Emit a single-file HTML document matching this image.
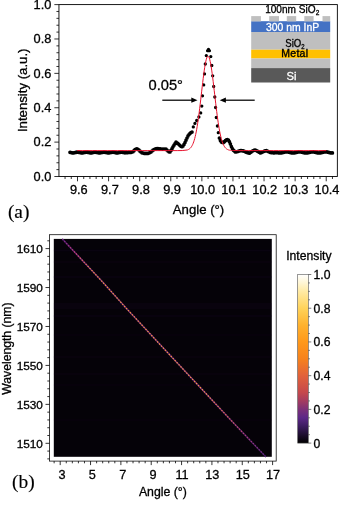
<!DOCTYPE html>
<html><head><meta charset="utf-8"><title>Figure</title>
<style>html,body{margin:0;padding:0;background:#fff;overflow:hidden}svg{display:block;will-change:transform}text{font-family:"Liberation Sans",sans-serif;fill:#000;stroke:#000;stroke-width:.3px}.w{fill:#fff;stroke:#fff}.s{font-family:"Liberation Serif",serif;stroke-width:.15px}</style>
</head><body>
<svg width="342" height="506" viewBox="0 0 342 506">
<defs>
<linearGradient id="cb" x1="0" y1="0" x2="0" y2="1"><stop offset="0" stop-color="#ffffff"/><stop offset="0.05" stop-color="#fff6d4"/><stop offset="0.1" stop-color="#ffeaa4"/><stop offset="0.2" stop-color="#ffd35a"/><stop offset="0.3" stop-color="#ffb22e"/><stop offset="0.4" stop-color="#ff981a"/><stop offset="0.5" stop-color="#f6821c"/><stop offset="0.6" stop-color="#e2623a"/><stop offset="0.7" stop-color="#c5484c"/><stop offset="0.75" stop-color="#a43c60"/><stop offset="0.8" stop-color="#7c3078"/><stop offset="0.85" stop-color="#5c2888"/><stop offset="0.9" stop-color="#3c1c60"/><stop offset="0.95" stop-color="#1e0e30"/><stop offset="1" stop-color="#000000"/></linearGradient>
<linearGradient id="lg" gradientUnits="userSpaceOnUse" x1="62.3" y1="238.9" x2="266" y2="457"><stop offset="0" stop-color="#7a2a90"/><stop offset="0.06" stop-color="#c8407a"/><stop offset="0.15" stop-color="#f5953a"/><stop offset="0.7" stop-color="#f5954a"/><stop offset="0.8" stop-color="#e07050"/><stop offset="0.9" stop-color="#b04080"/><stop offset="1" stop-color="#6a2a90"/></linearGradient>
<linearGradient id="lg2" gradientUnits="userSpaceOnUse" x1="62.3" y1="238.9" x2="266" y2="457"><stop offset="0" stop-color="#3a1050"/><stop offset="0.1" stop-color="#6a2470"/><stop offset="0.75" stop-color="#6a2470"/><stop offset="1" stop-color="#2a1040"/></linearGradient>
</defs>
<rect width="342" height="506" fill="#fff"/>
<g id="top">
<path d="M54.35 176.50H58.95M56.45 169.62H58.95M56.45 162.75H58.95M56.45 155.87H58.95M56.45 149.00H58.95M54.35 142.12H58.95M56.45 135.24H58.95M56.45 128.37H58.95M56.45 121.49H58.95M56.45 114.62H58.95M54.35 107.74H58.95M56.45 100.86H58.95M56.45 93.99H58.95M56.45 87.11H58.95M56.45 80.24H58.95M54.35 73.36H58.95M56.45 66.48H58.95M56.45 59.61H58.95M56.45 52.73H58.95M56.45 45.86H58.95M54.35 38.98H58.95M56.45 32.10H58.95M56.45 25.23H58.95M56.45 18.35H58.95M56.45 11.48H58.95M54.35 4.60H58.95M65.06 176.50V179.00M71.28 176.50V179.00M77.50 176.50V181.30M83.72 176.50V179.00M89.94 176.50V179.00M96.15 176.50V179.00M102.37 176.50V179.00M108.59 176.50V181.30M114.81 176.50V179.00M121.03 176.50V179.00M127.24 176.50V179.00M133.46 176.50V179.00M139.68 176.50V181.30M145.90 176.50V179.00M152.12 176.50V179.00M158.33 176.50V179.00M164.55 176.50V179.00M170.77 176.50V181.30M176.99 176.50V179.00M183.21 176.50V179.00M189.42 176.50V179.00M195.64 176.50V179.00M201.86 176.50V181.30M208.08 176.50V179.00M214.30 176.50V179.00M220.51 176.50V179.00M226.73 176.50V179.00M232.95 176.50V181.30M239.17 176.50V179.00M245.39 176.50V179.00M251.60 176.50V179.00M257.82 176.50V179.00M264.04 176.50V181.30M270.26 176.50V179.00M276.48 176.50V179.00M282.69 176.50V179.00M288.91 176.50V179.00M295.13 176.50V181.30M301.35 176.50V179.00M307.57 176.50V179.00M313.78 176.50V179.00M320.00 176.50V179.00M326.22 176.50V181.30M332.44 176.50V179.00" stroke="#000" stroke-width="0.8" fill="none"/>
<rect x="58.95" y="4.6" width="278.4" height="171.9" fill="none" stroke="#000" stroke-width="0.9"/>
<text x="51.4" y="180.8" font-size="12.8" text-anchor="end">0.0</text>
<text x="51.4" y="146.4" font-size="12.8" text-anchor="end">0.2</text>
<text x="51.4" y="112.0" font-size="12.8" text-anchor="end">0.4</text>
<text x="51.4" y="77.7" font-size="12.8" text-anchor="end">0.6</text>
<text x="51.4" y="43.3" font-size="12.8" text-anchor="end">0.8</text>
<text x="51.4" y="8.9" font-size="12.8" text-anchor="end">1.0</text>
<text x="78.8" y="193.6" font-size="12.8" text-anchor="middle">9.6</text>
<text x="109.9" y="193.6" font-size="12.8" text-anchor="middle">9.7</text>
<text x="141.0" y="193.6" font-size="12.8" text-anchor="middle">9.8</text>
<text x="172.1" y="193.6" font-size="12.8" text-anchor="middle">9.9</text>
<text x="202.7" y="193.6" font-size="12.8" text-anchor="middle">10.0</text>
<text x="233.8" y="193.6" font-size="12.8" text-anchor="middle">10.1</text>
<text x="264.8" y="193.6" font-size="12.8" text-anchor="middle">10.2</text>
<text x="295.9" y="193.6" font-size="12.8" text-anchor="middle">10.3</text>
<text x="327.0" y="193.6" font-size="12.8" text-anchor="middle">10.4</text>
<text x="198.5" y="213.6" font-size="13.2" text-anchor="middle">Angle (°)</text>
<text transform="translate(26.5,90.3) rotate(-90)" font-size="13.2" text-anchor="middle">Intensity (a.u.)</text>
<text class="s" x="7.9" y="218.1" font-size="19.4">(a)</text>
<path d="M70.0 152.3h0M71.0 152.5h0M72.0 152.8h0M73.0 152.9h0M74.0 152.8h0M75.0 152.6h0M76.0 152.4h0M77.0 152.2h0M78.0 152.2h0M79.0 152.4h0M80.0 152.6h0M81.0 152.8h0M82.0 152.9h0M83.0 152.8h0M84.0 152.6h0M85.0 152.4h0M86.0 152.2h0M87.0 152.2h0M88.0 152.4h0M89.0 152.6h0M90.0 152.8h0M91.0 152.9h0M92.0 152.8h0M93.0 152.5h0M94.0 152.3h0M95.0 152.2h0M96.0 152.3h0M97.0 152.5h0M98.0 152.7h0M99.0 152.9h0M100.0 152.9h0M101.0 152.7h0M102.0 152.5h0M103.0 152.3h0M104.0 152.2h0M105.0 152.3h0M106.0 152.5h0M107.0 152.7h0M108.0 152.9h0M109.0 152.9h0M110.0 152.7h0M111.0 152.5h0M112.0 152.3h0M113.0 152.2h0M114.0 152.3h0M115.0 152.5h0M116.0 152.8h0M117.0 152.9h0M118.0 152.8h0M119.0 152.6h0M120.0 152.4h0M121.0 152.2h0M122.0 152.2h0M123.0 152.4h0M124.0 152.6h0M125.0 152.8h0M126.0 152.6h0M127.0 152.6h0M128.0 152.6h0M129.0 152.5h0M130.0 152.5h0M131.0 152.5h0M132.0 152.1h0M133.0 151.7h0M134.0 150.7h0M135.0 149.5h0M136.0 149.0h0M137.0 148.8h0M138.0 149.3h0M139.0 150.1h0M140.0 151.2h0M141.0 152.0h0M142.0 152.8h0M143.0 153.0h0M144.0 153.3h0M145.0 153.4h0M146.0 153.4h0M147.0 153.4h0M148.0 153.4h0M149.0 153.0h0M150.0 152.6h0M151.0 152.0h0M152.0 151.0h0M153.0 150.2h0M154.0 149.5h0M155.0 149.1h0M156.0 148.9h0M157.0 148.7h0M158.0 148.7h0M159.0 148.8h0M160.0 148.8h0M161.0 149.0h0M162.0 149.2h0M163.0 149.2h0M164.0 149.0h0M165.0 149.0h0M166.0 149.2h0M167.0 150.1h0M168.0 151.0h0M169.0 151.8h0M170.0 151.9h0M171.0 150.4h0M172.0 148.7h0M173.0 146.8h0M174.0 145.2h0M175.0 143.7h0M176.0 142.2h0M177.0 142.8h0M178.0 143.6h0M179.0 144.6h0M180.0 145.6h0M181.0 146.3h0M182.0 146.7h0M183.0 146.1h0M184.0 144.4h0M185.0 142.5h0M186.0 140.2h0M187.0 138.0h0M188.0 135.9h0M189.0 134.5h0M190.0 133.4h0M191.0 132.6h0M192.0 132.1h0M219.4 138.0h0M220.4 140.6h0M221.4 141.9h0M222.4 142.4h0M223.4 142.6h0M224.4 141.7h0M225.4 140.7h0M226.4 139.8h0M227.4 139.7h0M228.4 140.1h0M229.4 141.7h0M230.4 143.9h0M231.4 146.6h0M232.4 148.5h0M233.4 150.2h0M234.4 151.1h0M235.4 152.0h0M236.4 151.8h0M237.4 151.6h0M238.4 151.3h0M239.4 150.9h0M240.4 150.5h0M241.4 150.6h0M242.4 150.8h0M243.4 150.9h0M244.4 151.3h0M245.4 151.8h0M246.4 152.3h0M247.4 152.6h0M248.4 152.9h0M249.4 153.2h0M250.4 152.5h0M251.4 151.8h0M252.4 151.1h0M253.4 150.6h0M254.4 150.1h0M255.4 150.1h0M256.4 150.6h0M257.4 151.2h0M258.4 151.7h0M259.4 152.3h0M260.4 152.9h0M261.4 152.6h0M262.4 152.1h0M263.4 151.6h0M264.4 151.2h0M265.4 150.8h0M266.4 150.7h0M267.4 151.1h0M268.4 151.6h0M269.4 152.0h0M270.4 152.4h0M271.4 152.7h0M272.4 152.7h0M273.4 152.8h0M274.4 152.8h0M275.4 152.7h0M276.4 152.6h0M277.4 152.6h0M278.4 152.8h0M279.4 152.9h0M280.4 153.0h0M281.4 152.9h0M282.4 152.7h0M283.4 152.5h0M284.4 152.2h0M285.4 152.0h0M286.4 151.9h0M287.4 151.9h0M288.4 152.1h0M289.4 152.3h0M290.4 152.6h0M291.4 152.8h0M292.4 152.9h0M293.4 153.0h0M294.4 152.9h0M295.4 152.7h0M296.4 152.5h0M297.4 152.2h0M298.4 152.0h0M299.4 151.9h0M300.4 151.9h0M301.4 152.1h0M302.4 152.3h0M303.4 152.6h0M304.4 152.8h0M305.4 152.9h0M306.4 153.0h0M307.4 152.9h0M308.4 152.7h0M309.4 152.5h0M310.4 152.2h0M311.4 152.0h0M312.4 151.9h0M313.4 151.9h0M314.4 152.1h0M315.4 152.3h0M316.4 152.6h0M317.4 152.8h0M318.4 152.9h0M319.4 153.0h0M320.4 152.9h0M321.4 152.7h0M322.4 152.5h0M323.4 152.2h0M324.4 152.0h0M325.4 151.9h0M326.4 151.9h0M327.4 152.1h0M328.4 152.3h0M329.4 152.6h0M330.4 152.8h0M331.4 152.9h0M332.4 152.9h0" fill="none" stroke="#000" stroke-width="3.7" stroke-linecap="round"/>
<path d="M193.3 126.9h0M194.9 123.4h0M196.7 120.5h0M198.9 117.0h0M200.7 112.9h0M201.8 106.1h0M202.5 95.8h0M203.7 84.9h0M204.5 73.9h0M205.3 64.0h0M206.3 55.6h0M207.6 50.7h0M208.5 49.5h0M209.4 50.7h0M210.8 56.6h0M211.8 65.5h0M212.7 75.8h0M213.7 86.5h0M214.8 97.0h0M215.6 107.5h0M216.3 117.5h0M217.4 126.0h0M218.3 132.7h0" fill="none" stroke="#000" stroke-width="3.3" stroke-linecap="round"/>
<polyline points="77.20,150.60 82.20,150.60 87.20,150.60 92.20,150.60 97.20,150.60 102.20,150.60 107.20,150.60 112.20,150.60 117.20,150.60 122.20,150.60 127.20,150.60 132.20,150.60 137.20,150.60 142.20,150.60 147.20,150.60 152.20,150.60 157.20,150.60 162.20,150.60 167.20,150.60 172.20,150.60 177.20,150.60 182.20,150.56 187.20,149.99 187.70,149.83 188.20,149.62 188.70,149.37 189.20,149.07 189.70,148.69 190.20,148.25 190.70,147.72 191.20,147.08 191.70,146.33 192.20,145.45 192.70,144.43 193.20,143.25 193.70,141.89 194.20,140.34 194.70,138.59 195.20,136.61 195.70,134.41 196.20,131.97 196.70,129.29 197.20,126.36 197.70,123.18 198.20,119.78 198.70,116.15 199.20,112.32 199.70,108.30 200.20,104.14 200.70,99.87 201.20,95.53 201.70,91.16 202.20,86.82 202.70,82.55 203.20,78.43 203.70,74.50 204.20,70.82 204.70,67.45 205.20,64.44 205.70,61.84 206.20,59.70 206.70,58.04 207.20,56.90 207.70,56.30 208.20,56.24 208.70,56.74 209.20,57.77 209.70,59.33 210.20,61.38 210.70,63.89 211.20,66.82 211.70,70.12 212.20,73.74 212.70,77.63 213.20,81.72 213.70,85.96 214.20,90.29 214.70,94.65 215.20,99.01 215.70,103.30 216.20,107.48 216.70,111.53 217.20,115.40 217.70,119.07 218.20,122.52 218.70,125.74 219.20,128.72 219.70,131.45 220.20,133.94 220.70,136.19 221.20,138.21 221.70,140.01 222.20,141.60 222.70,142.99 223.20,144.21 223.70,145.26 224.20,146.17 224.70,146.94 225.20,147.60 225.70,148.15 226.20,148.61 226.70,149.00 227.20,149.31 227.70,149.58 228.20,149.79 228.70,149.96 229.20,150.10 229.70,150.21 230.20,150.30 230.70,150.37 231.20,150.42 231.70,150.46 232.20,150.50 232.70,150.52 233.20,150.54 238.20,150.60 243.20,150.60 248.20,150.60 253.20,150.60 258.20,150.60 263.20,150.60 268.20,150.60 273.20,150.60 278.20,150.60 283.20,150.60 288.20,150.60 293.20,150.60 298.20,150.60 303.20,150.60 308.20,150.60 313.20,150.60 318.20,150.60 323.20,150.60 326.30,150.60" fill="none" stroke="#e8112d" stroke-width="1.0" stroke-linejoin="round"/>
<path d="M162.3 100.2H193" stroke="#000" stroke-width="1.25" fill="none"/><path d="M197.5 100.2L191.3 97.6V102.8Z" fill="#000"/>
<path d="M254.7 100.2H224" stroke="#000" stroke-width="1.25" fill="none"/><path d="M219.7 100.2L225.9 97.6V102.8Z" fill="#000"/>
<text x="148.5" y="89.5" font-size="14.7">0.05°</text>
<g id="inset">
<rect x="251.2" y="21.2" width="79" height="10.8" fill="#4472c4"/>
<rect x="251.2" y="32" width="79" height="17.7" fill="#bfbfbf"/>
<rect x="251.2" y="49.7" width="79" height="8.8" fill="#ffc000"/>
<rect x="251.2" y="58.5" width="79" height="9.6" fill="#bfbfbf"/>
<rect x="251.2" y="68.1" width="79" height="14.4" fill="#595959"/>
<rect x="251.2" y="16.1" width="9.7" height="5.3" fill="#bfbfbf"/>
<rect x="269.2" y="16.1" width="9.8" height="5.3" fill="#bfbfbf"/>
<rect x="286.8" y="16.1" width="9.4" height="5.3" fill="#bfbfbf"/>
<rect x="304.3" y="16.1" width="9.3" height="5.3" fill="#bfbfbf"/>
<rect x="322.5" y="16.1" width="7.7" height="5.3" fill="#bfbfbf"/>
<text x="292.2" y="12.9" font-size="10.1" text-anchor="middle">100nm SiO<tspan font-size="6.5" dy="1.6">2</tspan></text>
<text x="292.6" y="30.9" font-size="10.4" text-anchor="middle" class="w">300 nm InP</text>
<text transform="translate(294.9,46.8) scale(0.88,1)" font-size="10.9" text-anchor="middle">SiO<tspan font-size="6.8" dy="1.8">2</tspan></text>
<text x="294.8" y="57.3" font-size="10.5" letter-spacing="0.3" text-anchor="middle" style="stroke-width:.36px">Metal</text>
<text x="291.6" y="80.2" font-size="11.2" text-anchor="middle" class="w">Si</text>
</g>
</g>
<g id="bot">
<rect x="53.8" y="238.9" width="218.0" height="217.9" fill="#050208"/>
<rect x="53.8" y="249.7" width="218.0" height="1.6" fill="#1c0a2a" opacity="0.23"/>
<rect x="53.8" y="261.2" width="218.0" height="1.6" fill="#1c0a2a" opacity="0.18"/>
<rect x="53.8" y="276.2" width="218.0" height="1.6" fill="#1c0a2a" opacity="0.23"/>
<rect x="53.8" y="315.2" width="218.0" height="1.6" fill="#1c0a2a" opacity="0.23"/>
<rect x="53.8" y="334.2" width="218.0" height="1.6" fill="#1c0a2a" opacity="0.14"/>
<rect x="53.8" y="356.2" width="218.0" height="1.6" fill="#1c0a2a" opacity="0.18"/>
<rect x="53.8" y="373.2" width="218.0" height="1.6" fill="#1c0a2a" opacity="0.18"/>
<rect x="53.8" y="384.2" width="218.0" height="1.6" fill="#1c0a2a" opacity="0.14"/>
<rect x="53.8" y="419.2" width="218.0" height="1.6" fill="#1c0a2a" opacity="0.14"/>
<rect x="53.8" y="303" width="218.0" height="6" fill="#1c0a2a" opacity="0.18"/>
<path d="M62.3 238.9L101.75 281.1L127.6 309.7L172 357.35L230 419.15L266 457" stroke="url(#lg2)" stroke-width="1.5" fill="none"/>
<path d="M62.3 238.9L101.75 281.1L127.6 309.7L172 357.35L230 419.15L266 457" stroke="url(#lg)" stroke-width="1.15" stroke-dasharray="1.5 1.35" fill="none"/>
<rect x="49.5" y="234.7" width="226.7" height="226.4" fill="none" stroke="#111" stroke-width="0.8"/>
<path d="M47.30 458.88H49.50M47.30 451.09H49.50M45.50 443.30H49.50M47.30 435.51H49.50M47.30 427.72H49.50M47.30 419.94H49.50M47.30 412.15H49.50M45.50 404.36H49.50M47.30 396.57H49.50M47.30 388.78H49.50M47.30 381.00H49.50M47.30 373.21H49.50M45.50 365.42H49.50M47.30 357.63H49.50M47.30 349.84H49.50M47.30 342.06H49.50M47.30 334.27H49.50M45.50 326.48H49.50M47.30 318.69H49.50M47.30 310.90H49.50M47.30 303.12H49.50M47.30 295.33H49.50M45.50 287.54H49.50M47.30 279.75H49.50M47.30 271.96H49.50M47.30 264.18H49.50M47.30 256.39H49.50M45.50 248.60H49.50M47.30 240.81H49.50M54.13 461.10V463.30M60.20 461.10V465.10M66.27 461.10V463.30M72.34 461.10V463.30M78.41 461.10V463.30M84.47 461.10V463.30M90.54 461.10V465.10M96.61 461.10V463.30M102.68 461.10V463.30M108.75 461.10V463.30M114.82 461.10V463.30M120.89 461.10V465.10M126.95 461.10V463.30M133.02 461.10V463.30M139.09 461.10V463.30M145.16 461.10V463.30M151.23 461.10V465.10M157.30 461.10V463.30M163.37 461.10V463.30M169.43 461.10V463.30M175.50 461.10V463.30M181.57 461.10V465.10M187.64 461.10V463.30M193.71 461.10V463.30M199.78 461.10V463.30M205.85 461.10V463.30M211.91 461.10V465.10M217.98 461.10V463.30M224.05 461.10V463.30M230.12 461.10V463.30M236.19 461.10V463.30M242.26 461.10V465.10M248.33 461.10V463.30M254.39 461.10V463.30M260.46 461.10V463.30M266.53 461.10V463.30M272.60 461.10V465.10" stroke="#000" stroke-width="0.8" fill="none"/>
<text x="42.9" y="447.6" font-size="11.8" text-anchor="end">1510</text>
<text x="42.9" y="408.7" font-size="11.8" text-anchor="end">1530</text>
<text x="42.9" y="369.7" font-size="11.8" text-anchor="end">1550</text>
<text x="42.9" y="330.8" font-size="11.8" text-anchor="end">1570</text>
<text x="42.9" y="291.8" font-size="11.8" text-anchor="end">1590</text>
<text x="42.9" y="252.9" font-size="11.8" text-anchor="end">1610</text>
<text x="62.0" y="478.9" font-size="12.7" text-anchor="middle">3</text>
<text x="92.3" y="478.9" font-size="12.7" text-anchor="middle">5</text>
<text x="122.7" y="478.9" font-size="12.7" text-anchor="middle">7</text>
<text x="153.0" y="478.9" font-size="12.7" text-anchor="middle">9</text>
<text x="182.0" y="478.9" font-size="12.7" text-anchor="middle">11</text>
<text x="212.3" y="478.9" font-size="12.7" text-anchor="middle">13</text>
<text x="242.7" y="478.9" font-size="12.7" text-anchor="middle">15</text>
<text x="273.0" y="478.9" font-size="12.7" text-anchor="middle">17</text>
<text x="162.9" y="495.5" font-size="12.3" text-anchor="middle">Angle (°)</text>
<text transform="translate(11.3,348.6) rotate(-90)" font-size="12.2" text-anchor="middle">Wavelength (nm)</text>
<text class="s" x="12" y="488.4" font-size="19.4">(b)</text>
<rect x="297.7" y="274.5" width="10.6" height="168.6" fill="url(#cb)" stroke="#555" stroke-width="0.6"/>
<path d="M308.30 443.10h3.0M308.30 434.67h1.6M308.30 426.24h1.6M308.30 417.81h1.6M308.30 409.38h3.0M308.30 400.95h1.6M308.30 392.52h1.6M308.30 384.09h1.6M308.30 375.66h3.0M308.30 367.23h1.6M308.30 358.80h1.6M308.30 350.37h1.6M308.30 341.94h3.0M308.30 333.51h1.6M308.30 325.08h1.6M308.30 316.65h1.6M308.30 308.22h3.0M308.30 299.79h1.6M308.30 291.36h1.6M308.30 282.93h1.6M308.30 274.50h3.0" stroke="#444" stroke-width="0.7" fill="none"/>
<text x="313.5" y="447.5" font-size="12.2">0</text>
<text x="313.5" y="413.8" font-size="12.2">0.2</text>
<text x="313.5" y="380.1" font-size="12.2">0.4</text>
<text x="313.5" y="346.3" font-size="12.2">0.6</text>
<text x="313.5" y="312.6" font-size="12.2">0.8</text>
<text x="313.5" y="278.9" font-size="12.2">1.0</text>
<text x="308.9" y="260.4" font-size="12.2" text-anchor="middle">Intensity</text>
</g>
</svg></body></html>
